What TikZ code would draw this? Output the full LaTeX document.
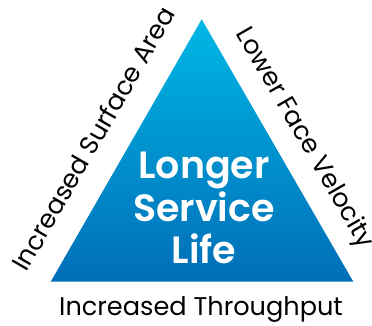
\documentclass[tikz,border=0pt]{standalone}
\usepackage{fontspec}
\setmainfont{Poppins}
\newfontfamily\boldface{Poppins SemiBold}
\usetikzlibrary{calc}
\definecolor{lifetop}{RGB}{0,183,228}
\definecolor{lifebottom}{RGB}{0,110,184}
\tikzset{
  sidelabel/.style={font=\fontsize{25.6}{26}\selectfont,anchor=base,inner sep=0pt},
  centrelabel/.style={font=\boldface\fontsize{38}{42.5}\selectfont,text=white,align=center,inner sep=0pt}
}

\begin{document}
\begin{tikzpicture}[x=1pt,y=-1pt]
\useasboundingbox (0,0) rectangle (372,325);
\coordinate (A) at (201.7,19.3);
\coordinate (B) at (50.7,281.7);
\coordinate (C) at (353.3,281.7);
\shade[top color=lifetop,bottom color=lifebottom] (A)--(B)--(C)--cycle;
% labels round the triangle
\node[centrelabel] (life) at (204,208) {Longer\\Service\\Life};
\node[sidelabel,rotate=60] (area) at ($(A)!0.52!(B)+(-21.7,-12.5)$) {Increased Surface Area};
\node[sidelabel,rotate=-60] (velo) at ($(A)!0.51!(C)+(19.5,-11.2)$) {Lower Face Velocity};
\node[sidelabel] (thru) at (201,315) {Increased Throughput};
\end{tikzpicture}
\end{document}
